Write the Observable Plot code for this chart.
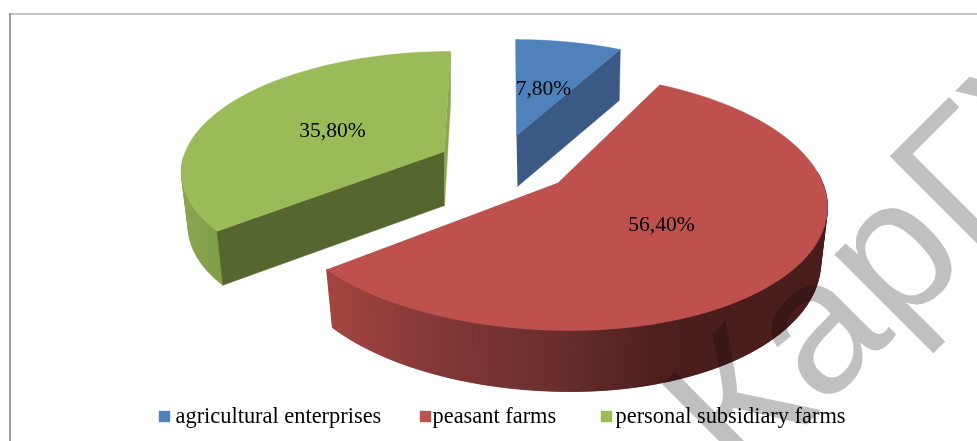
<!DOCTYPE html>
<html>
<head>
<meta charset="utf-8">
<style>html,body{margin:0;padding:0;background:#fff}svg{display:block}</style>
<script src="https://cdn.jsdelivr.net/npm/d3@7"></script>
<script src="https://cdn.jsdelivr.net/npm/@observablehq/plot@0.6"></script>
</head>
<body>
<script>
const categories = ["agricultural enterprises", "peasant farms", "personal subsidiary farms"];
const shares = [7.8, 56.4, 35.8];
const labels = ["7,80%", "56,40%", "35,80%"];
const topColors = ["#4f81bd", "#be504d", "#9bbb59"];
const watermarkText = "КарГУ";

// picture geometry of the exploded 3D pie
const W = 977, H = 441;
const views = [
  {cx:516, cy:135, aR:251, aL:251, b:110, p:.147, s:-1,   kx:.98,  ky:1.0,  ox:1, oy:51},
  {cx:558, cy:182, aR:264, aL:278, b:125.5, p:.152, s:-10.6, kx:.975, ky:1.05, ox:0, oy:53.6},
  {cx:444, cy:151, aR:259, aL:259, b:115, p:.15, s:7,   kx:.974, ky:1.0,  ox:0, oy:54}
];
const labelAt = [[543,88],[661,224],[332,130]];
const legendAt = [[164,416,175],[425,416,432],[606,416,615]];

function rimOffset(v, deg){
  const t = deg*Math.PI/180, X = Math.sin(t), Z = Math.cos(t), d = 1 + v.p*Z;
  return [(X>=0?v.aR:v.aL)*X/d + v.s*Z/d, -v.b*Z/d];
}
const P = (v,deg) => { const [x,y] = rimOffset(v,deg); return [v.cx+x, v.cy+y]; };
const Q = (v,deg) => { const [x,y] = rimOffset(v,deg); return [v.cx+v.ox+v.kx*x, v.cy+v.oy+v.ky*y]; };
const A = v => [v.cx, v.cy];
const A2 = v => [v.cx+v.ox, v.cy+v.oy];

let cum = 0;
const spans = shares.map(s => { const a = cum*3.6; cum += s; return [a, cum*3.6]; });

const shapes = [];
let sid = 0;
function poly(pts, color){ sid++; pts.forEach(p => shapes.push({x:p[0], y:p[1], id:sid, color})); }
const arc = (f,v,a,b,st=2) => { const r=[]; const n=Math.ceil(Math.abs(b-a)/st); for(let i=0;i<=n;i++) r.push(f(v,a+(b-a)*i/n)); return r; };

const redShade = d3.scaleLinear().domain([330,450,560,650,700,830])
  .range(["#a34441","#803736","#6a2e2d","#50201f","#4a1e1d","#4a1e1d"]).clamp(true);
const greenShade = d3.scaleLinear().domain([181,225]).range(["#8aa64f","#7f9b47"]).clamp(true);
// strips overlap their neighbour by a degree so no white seam shows between them
const strips = (v,a,b,shade) => {
  const n = Math.ceil(Math.abs(b-a));
  for(let i=0;i<n;i++){
    const a0=a+(b-a)*i/n, a1=a+(b-a)*Math.min(n,i+2)/n;
    poly([P(v,a0),P(v,a1),Q(v,a1),Q(v,a0)], shade(P(v,a0)[0]));
  }
};

// blue
{ const v=views[0], [a,b]=spans[0];
  poly([A(v),P(v,b),Q(v,b),A2(v)],"#3a5a85");
  poly([A(v),...arc(P,v,a,b)],topColors[0]); }
// green
{ const v=views[2], [a,b]=spans[2];
  poly([A(v),P(v,b),Q(v,b),A2(v)],"#8aa64f");
  strips(v,268,a,greenShade);
  poly([A(v),P(v,a),Q(v,a),A2(v)],"#56662f");
  poly([A(v),...arc(P,v,a,b)],topColors[2]); }
// red
{ const v=views[1], [a,b]=spans[1];
  strips(v,85,b,redShade);
  poly([A(v),...arc(P,v,a,b)],topColors[1]); }

const labelRows = labels.map((t,i)=>({t,x:labelAt[i][0],y:labelAt[i][1]}));
const legendRows = categories.map((t,i)=>({t,sx:legendAt[i][0],y:legendAt[i][1],tx:legendAt[i][2],color:topColors[i]}));
const serif = "'Liberation Serif','Times New Roman',serif";

const chart = Plot.plot({
  width:W, height:H, margin:0,
  x:{domain:[0,W], axis:null},
  y:{domain:[H,0], axis:null},
  color:{type:"identity"},
  style:{background:"#fff"},
  marks:[
    Plot.ruleY([13.5],{x1:9,x2:W,stroke:"#868686",strokeWidth:1.2}),
    Plot.ruleX([9.5],{y1:13,y2:H,stroke:"#868686",strokeWidth:1.6}),
    Plot.line(shapes,{x:"x",y:"y",z:"id",fill:"color",stroke:"color",strokeWidth:.5,curve:"linear"}),
    Plot.text(labelRows,{x:"x",y:"y",text:"t",fontFamily:serif,fontSize:21.5,fill:"#000"}),
    Plot.dot(legendRows,{x:"sx",y:"y",symbol:"square",r:6.4,fill:"color",stroke:"none"}),
    Plot.text(legendRows,{x:"tx",y:"y",dy:-1,text:"t",textAnchor:"start",fontFamily:serif,fontSize:22.4,fill:"#000"}),
    Plot.text([watermarkText],{x:()=>743,y:()=>487,text:d=>d,rotate:-45,textAnchor:"start",lineAnchor:"bottom",
      fontFamily:"'Liberation Sans',Arial,sans-serif",fontSize:190,fill:"#c0c0c0",mixBlendMode:"multiply"})
  ]
});
document.body.appendChild(chart);
</script>
</body>
</html>
